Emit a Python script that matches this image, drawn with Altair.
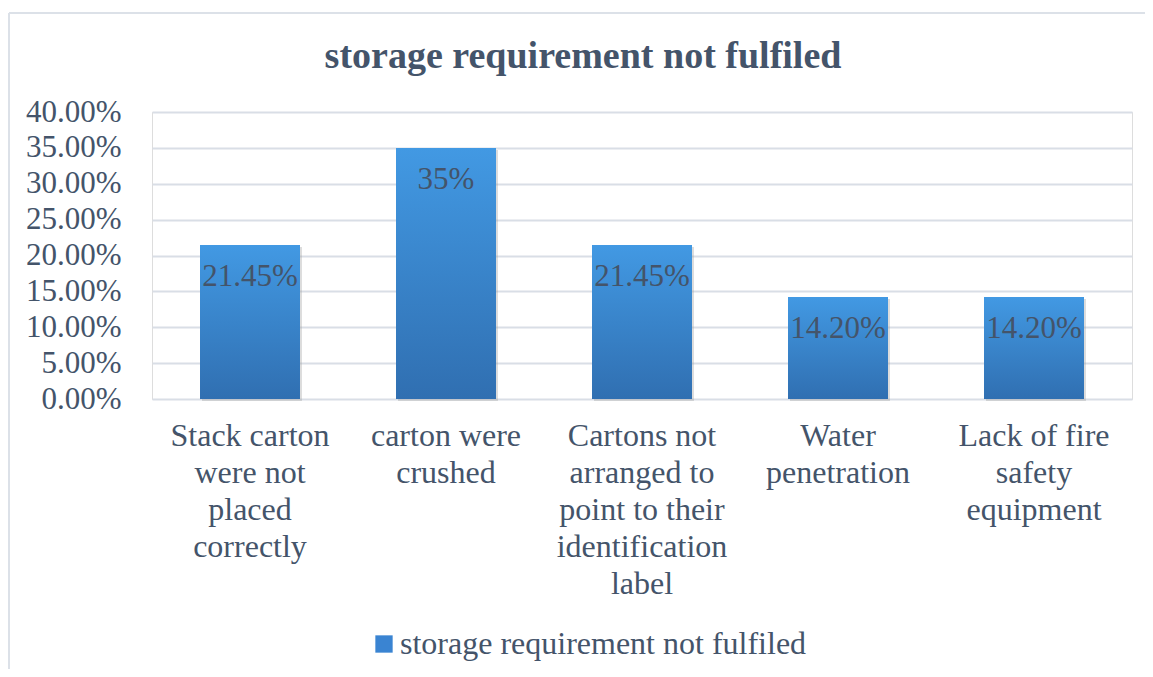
import altair as alt
import pandas as pd

categories = [
    "Stack carton\nwere not\nplaced\ncorrectly",
    "carton were\ncrushed",
    "Cartons not\narranged to\npoint to their\nidentification\nlabel",
    "Water\npenetration",
    "Lack of fire\nsafety\nequipment",
]
values = [0.2145, 0.35, 0.2145, 0.142, 0.142]
value_labels = ["21.45%", "35%", "21.45%", "14.20%", "14.20%"]
series_name = "storage requirement not fulfiled"
chart_title = "storage requirement not fulfiled"
y_ticks = [0, 0.05, 0.10, 0.15, 0.20, 0.25, 0.30, 0.35, 0.40]

df = pd.DataFrame({
    "cat": categories,
    "val": values,
    "lab": value_labels,
    "series": [series_name] * len(categories),
})

FONT = "Times New Roman, Liberation Serif, serif"
TXT = "#44546A"

x_enc = alt.X(
    "cat:N",
    sort=categories,
    scale=alt.Scale(paddingInner=0.49, paddingOuter=0.245),
    axis=alt.Axis(
        title=None,
        labelExpr="split(datum.label, '\\n')",
        labelAngle=0,
        labelFont=FONT,
        labelFontSize=32,
        labelColor=TXT,
        labelLineHeight=37,
        labelPadding=21,
        labelBaseline="top",
        labelLimit=0,
        ticks=False,
        domain=False,
        grid=False,
    ),
)
y_enc = alt.Y(
    "val:Q",
    scale=alt.Scale(domain=[0, 0.40], nice=False),
    axis=alt.Axis(
        title=None,
        values=y_ticks,
        format=".2%",
        labelFont=FONT,
        labelFontSize=31,
        labelColor=TXT,
        labelPadding=31,
        ticks=False,
        domain=False,
        grid=True,
        gridColor="#D9DEE6",
        gridWidth=2,
    ),
)

base = alt.Chart(df)

shadow = base.mark_bar(color="#9a9a9a", opacity=0.35, xOffset=2, yOffset=2).encode(
    x=x_enc, y=y_enc
)

legend_bars = base.mark_bar().encode(
    x=x_enc,
    y=y_enc,
    color=alt.Color(
        "series:N",
        scale=alt.Scale(range=["#3A84D2"]),
        legend=alt.Legend(
            title=None,
            orient="none",
            legendX=216,
            legendY=516,
            symbolType="square",
            symbolSize=300,
            symbolStrokeWidth=0,
            labelFont=FONT,
            labelFontSize=32,
            labelColor=TXT,
            labelOffset=0,
            labelLimit=0,
        ),
    ),
)

grad_bars = base.mark_bar(
    color=alt.Gradient(
        gradient="linear",
        x1=0, y1=0, x2=0, y2=1,
        stops=[
            alt.GradientStop(offset=0, color="#4299E3"),
            alt.GradientStop(offset=1, color="#306FB1"),
        ],
    )
).encode(x=x_enc, y=y_enc)

labels = base.mark_text(
    font=FONT, fontSize=31, color=TXT, baseline="middle", dy=32
).encode(x=x_enc, y=y_enc, text="lab:N")

one = pd.DataFrame({"t": [chart_title]})

title_mark = alt.Chart(one).mark_text(
    font=FONT, fontSize=38, fontWeight="bold", color=TXT,
    align="center", baseline="alphabetic"
).encode(x=alt.value(431), y=alt.value(-44), text="t:N")

border_left = alt.Chart(one).mark_rule(
    color="#DCE1E8", strokeWidth=2
).encode(x=alt.value(-143), y=alt.value(-99), y2=alt.value(565))
border_top = alt.Chart(one).mark_rule(
    color="#DCE1E8", strokeWidth=2
).encode(x=alt.value(-143), x2=alt.value(1001), y=alt.value(-99))

chart = alt.layer(
    border_left, border_top, shadow, legend_bars, grad_bars, labels, title_mark
).properties(
    width=980,
    height=287,
    padding={"left": 144, "top": 104, "right": 13, "bottom": 270},
    autosize=alt.AutoSizeParams(type="none"),
).configure_view(stroke=None).configure(background="white")

chart.save("out.html", embed_options={"renderer": "svg", "actions": False})
